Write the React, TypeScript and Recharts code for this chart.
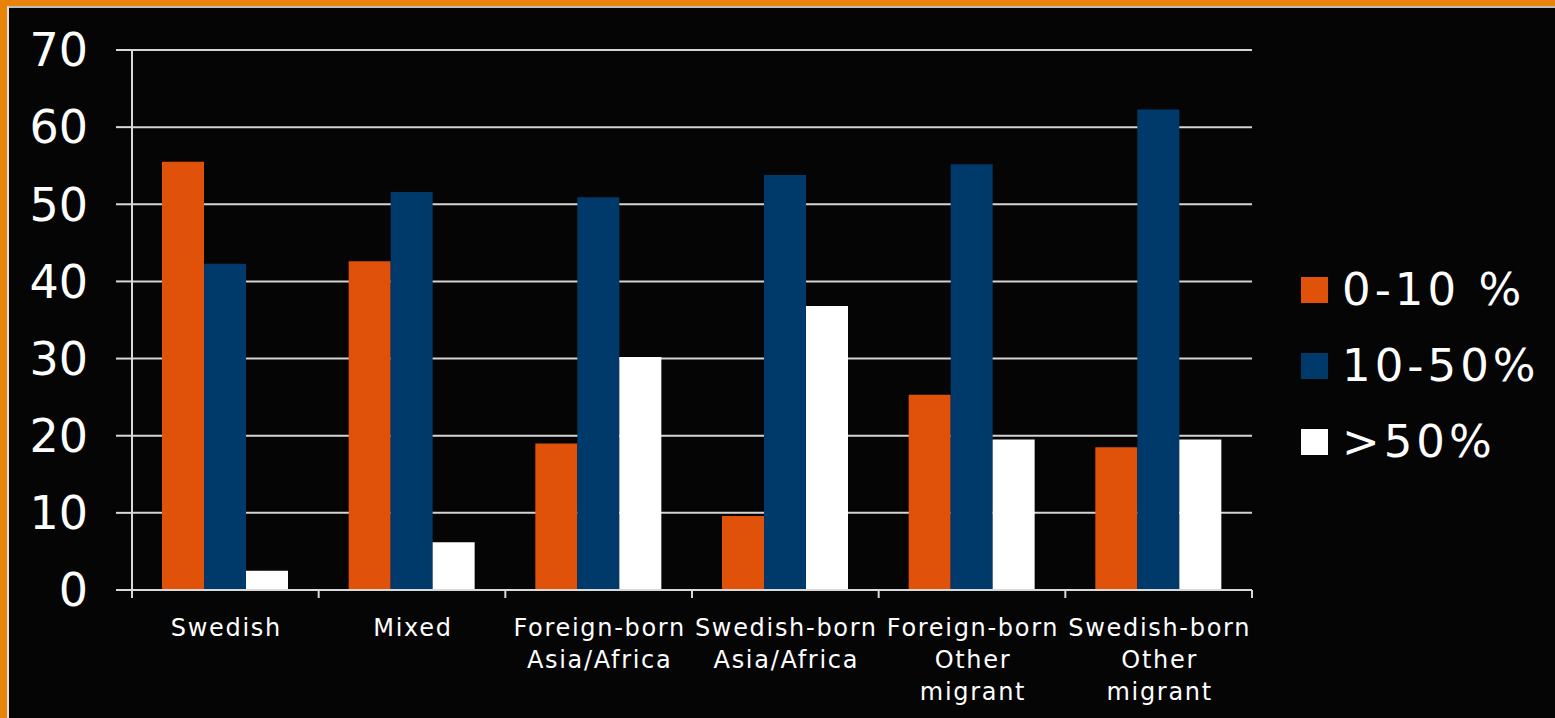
import React from 'react';
import { BarChart, Bar, XAxis, YAxis, CartesianGrid, Legend } from 'recharts';

const categories = [
  'Swedish',
  'Mixed',
  'Foreign-born\nAsia/Africa',
  'Swedish-born\nAsia/Africa',
  'Foreign-born\nOther\nmigrant',
  'Swedish-born\nOther\nmigrant',
];
const low = [55.5, 42.6, 19.0, 9.6, 25.3, 18.5];
const mid = [42.3, 51.6, 50.9, 53.8, 55.2, 62.3];
const high = [2.5, 6.2, 30.2, 36.8, 19.5, 19.5];
const yTicks = [0, 10, 20, 30, 40, 50, 60, 70];
const seriesNames = ['0-10 %', '10-50%', '>50%'];

const data = categories.map((c, i) => ({ cat: c, low: low[i], mid: mid[i], high: high[i] }));

const FONT = '"DejaVu Sans", Verdana, sans-serif';
const AXIS = '#d9d9d9';

const XTick = (props: any) => {
  const { x, y, payload, index } = props;
  const half = payload && typeof payload.offset === 'number' && payload.offset > 0 ? payload.offset : 93;
  const lines = String(payload.value).split('\n');
  return (
    <g>
      <line x1={x - half} x2={x - half} y1={y} y2={y + 8} stroke={AXIS} strokeWidth={2} />
      {index === categories.length - 1 && (
        <line x1={x + half} x2={x + half} y1={y} y2={y + 8} stroke={AXIS} strokeWidth={2} />
      )}
      <text
        x={x + 1}
        y={y + 46}
        textAnchor="middle"
        fill="#ffffff"
        fontSize={24}
        fontFamily={FONT}
        letterSpacing={1.7}
      >
        {lines.map((l, i) => (
          <tspan key={i} x={x + 1} dy={i === 0 ? 0 : 32}>
            {l}
          </tspan>
        ))}
      </text>
    </g>
  );
};

const renderLegend = (props: any) => {
  const { payload } = props;
  return (
    <div style={{ width: 254 }}>
      {(payload || []).map((entry: any, i: number) => (
        <div key={i} style={{ display: 'flex', alignItems: 'center', height: 76 }}>
          <div style={{ width: 27, height: 26, background: entry.color, marginRight: 14 }} />
          <span
            style={{
              color: '#ffffff',
              fontFamily: FONT,
              fontSize: 45,
              letterSpacing: 4,
              lineHeight: '50px',
              whiteSpace: 'nowrap',
            }}
          >
            {entry.value}
          </span>
        </div>
      ))}
    </div>
  );
};

export default function App() {
  return (
    <div
      style={{
        position: 'absolute',
        left: 0,
        top: 0,
        width: 1555,
        height: 718,
        background: '#050505',
        overflow: 'hidden',
      }}
    >
      <BarChart
        width={1555}
        height={718}
        data={data}
        margin={{ top: 50, right: 303, bottom: 0, left: 0 }}
        barCategoryGap={30}
        barGap={0}
      >
        <CartesianGrid horizontal vertical={false} stroke="#d4d4d4" strokeWidth={2} />
        <XAxis
          dataKey="cat"
          height={128}
          axisLine={{ stroke: AXIS, strokeWidth: 2 }}
          tickLine={false}
          tickSize={0}
          tickMargin={0}
          interval={0}
          tick={<XTick />}
        />
        <YAxis
          width={132}
          domain={[0, 70]}
          ticks={yTicks}
          interval={0}
          axisLine={{ stroke: AXIS, strokeWidth: 2 }}
          tickLine={{ stroke: AXIS, strokeWidth: 2 }}
          tickSize={16}
          tickMargin={28}
          tick={{ fill: '#ffffff', fontSize: 46, fontFamily: FONT }}
        />
        <Legend
          layout="vertical"
          align="center"
          verticalAlign="middle"
          wrapperStyle={{ left: 1301, top: 252 }}
          content={renderLegend}
        />
        <Bar dataKey="low" name={seriesNames[0]} fill="#E0520A" isAnimationActive={false} />
        <Bar dataKey="mid" name={seriesNames[1]} fill="#003A6A" isAnimationActive={false} />
        <Bar dataKey="high" name={seriesNames[2]} fill="#FFFFFF" isAnimationActive={false} />
      </BarChart>
      <div style={{ position: 'absolute', left: 0, top: 0, width: 1555, height: 6, background: '#E8830A' }} />
      <div style={{ position: 'absolute', left: 7, top: 6, width: 1548, height: 2, background: '#bdbdbd' }} />
      <div style={{ position: 'absolute', left: 0, top: 0, width: 7, height: 718, background: '#E8830A' }} />
      <div style={{ position: 'absolute', left: 7, top: 6, width: 2, height: 712, background: '#e0e0e0' }} />
    </div>
  );
}
